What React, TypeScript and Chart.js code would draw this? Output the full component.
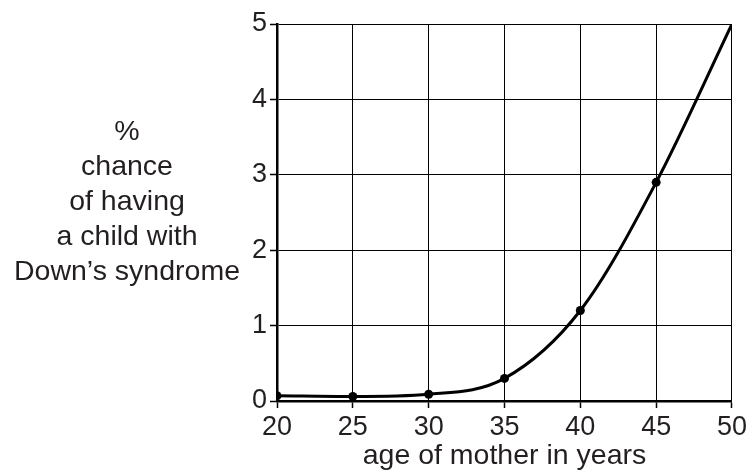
import React, { useEffect, useRef } from "react";
import { Chart, registerables } from "chart.js";

Chart.register(...registerables);

const ages = [20, 25, 30, 35, 40, 45, 50];
const chancePercent = [0.07, 0.06, 0.09, 0.3, 1.2, 2.9, 5];
const pointSizes = [4.5, 4.5, 4.5, 4.5, 4.5, 4.5, 0];
const yTitleLines = ["%", "chance", "of having", "a child with", "Down\u2019s syndrome"];
const xTitle = "age of mother in years";

const FONT = "'Liberation Sans', Arial, sans-serif";
const TEXT = "#231f20";

export default function App() {
  const ref = useRef<HTMLCanvasElement | null>(null);

  useEffect(() => {
    if (!ref.current) return;
    const titles = {
      id: "titles",
      afterDraw(chart: any) {
        const ctx = chart.ctx;
        const area = chart.chartArea;
        ctx.save();
        ctx.fillStyle = TEXT;
        ctx.font = `28.5px ${FONT}`;
        ctx.textAlign = "center";
        ctx.textBaseline = "middle";
        yTitleLines.forEach((line, i) => {
          ctx.fillText(line, 127, 132 + i * 35);
        });
        ctx.fillText(xTitle, (area.left + area.right) / 2, 456);
        ctx.restore();
      },
    };
    const chart = new Chart(ref.current, {
      type: "line",
      data: {
        datasets: [
          {
            data: ages.map((a, i) => ({ x: a, y: chancePercent[i] })),
            borderColor: "#000",
            backgroundColor: "#000",
            borderWidth: 3,
            pointRadius: pointSizes,
            pointHoverRadius: pointSizes,
            pointBackgroundColor: "#000",
            pointBorderWidth: 0,
            cubicInterpolationMode: "monotone",
            fill: false,
          },
        ],
      },
      options: {
        animation: false,
        responsive: false,
        maintainAspectRatio: false,
        layout: { padding: { left: 0, top: 24, right: 18, bottom: 0 } },
        plugins: { legend: { display: false }, tooltip: { enabled: false } },
        scales: {
          x: {
            type: "linear",
            min: 20,
            max: 50,
            afterFit: (s: any) => {
              s.height = 71;
            },
            ticks: {
              stepSize: 5,
              color: TEXT,
              font: { family: FONT, size: 27 },
              padding: 3,
              maxRotation: 0,
            },
            grid: {
              color: "#000",
              lineWidth: 1,
              tickLength: 7,
              tickColor: "#000",
              tickWidth: 1.5,
            },
            border: { color: "#000", width: 2.5 },
          },
          y: {
            type: "linear",
            min: 0,
            max: 5,
            afterFit: (s: any) => {
              s.width = 277;
            },
            ticks: {
              stepSize: 1,
              color: TEXT,
              font: { family: FONT, size: 27 },
              padding: 3,
            },
            grid: {
              color: "#000",
              lineWidth: 1,
              tickLength: 7,
              tickColor: "#000",
              tickWidth: 1.5,
            },
            border: { color: "#000", width: 2.5 },
          },
        },
      },
      plugins: [titles],
    } as any);
    return () => chart.destroy();
  }, []);

  return (
    <div style={{ position: "fixed", left: 0, top: 0, width: 750, height: 472, background: "#fff" }}>
      <canvas ref={ref} width={750} height={472} />
    </div>
  );
}
